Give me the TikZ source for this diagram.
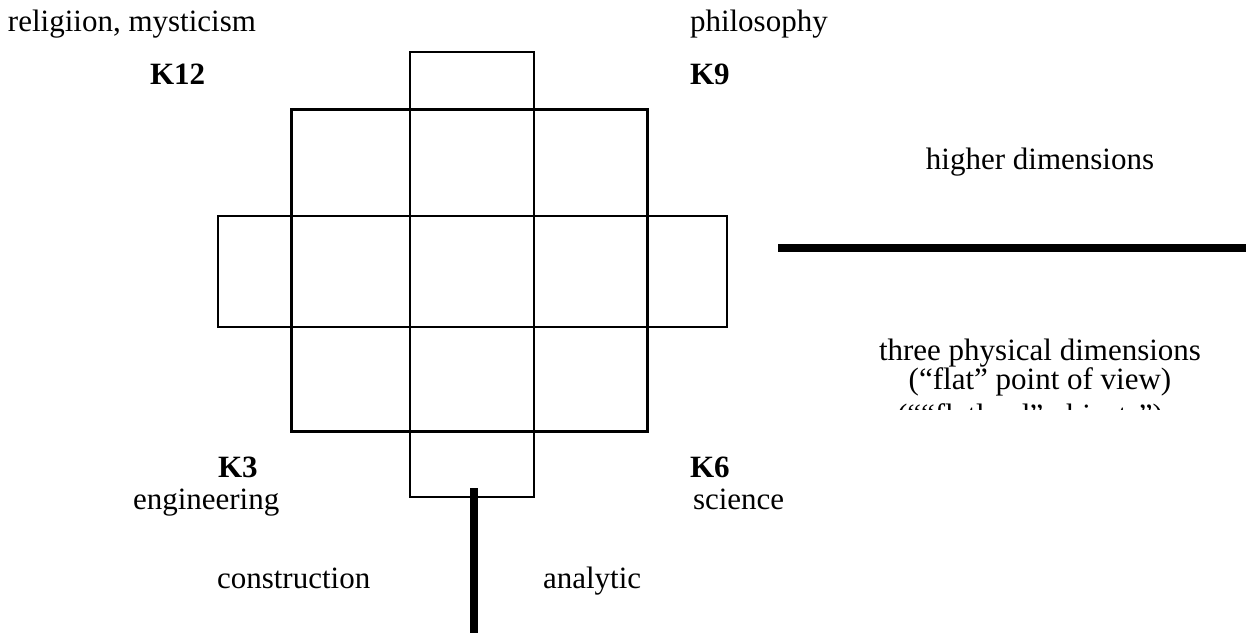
\documentclass[tikz,border=0pt]{standalone}
\usepackage{fontspec}
\setmainfont{Liberation Serif}
\begin{document}
\begin{tikzpicture}[x=1pt,y=-1pt,
  every node/.style={inner sep=0pt, outer sep=0pt, font=\fontsize{31}{29}\selectfont},
  thinline/.style={draw, line width=1.5pt},
  thickline/.style={draw, line width=3pt},
  bar/.style={draw, line width=7.5pt},
  lbl/.style={anchor=base west},
  ctr/.style={anchor=base},
  klbl/.style={anchor=base west, font=\fontsize{31}{29}\selectfont\bfseries}]
\useasboundingbox (0,0) rectangle (1246,633);
% grid
\draw[thinline] (410,52) rectangle (534,109);
\draw[thinline] (218,216) rectangle (727,327);
\draw[thinline] (410,431) rectangle (534,497);
\draw[thinline] (410,109) -- (410,431);
\draw[thinline] (534,109) -- (534,431);
\draw[thickline] (291,109) rectangle (647,431);
% bars
\coordinate (vtop) at (474,488);
\coordinate (vbot) at (474,633);
\coordinate (hl) at (778,248);
\coordinate (hr) at (1246,248);
\draw[bar] (vtop) -- (vbot);
\draw[bar] (hl) -- (hr);
% labels
\node[lbl] (rel) at (8,31) {religiion, mysticism};
\node[lbl] (phil) at (690,31) {philosophy};
\node[klbl] (k12) at (150,84) {K12};
\node[klbl] (k9) at (690,84) {K9};
\node[ctr] (hd) at (1040,169) {higher dimensions};
\node[ctr] (tpd) at (1040,360) {three physical dimensions};
\node[ctr] (flat) at (1040,389) {(“flat” point of view)};
\begin{scope}
\clip (800,0) rectangle (1246,409);
\node[ctr] (flat2) at (1030,425) {(““flatland” objects”)};
\end{scope}
\node[klbl] (k3) at (218,477) {K3};
\node[lbl] (eng) at (133,509) {engineering};
\node[klbl] (k6) at (690,477) {K6};
\node[lbl] (sci) at (693,509) {science};
\node[lbl] (con) at (217,588) {construction};
\node[lbl] (ana) at (543,588) {analytic};
\end{tikzpicture}
\end{document}
